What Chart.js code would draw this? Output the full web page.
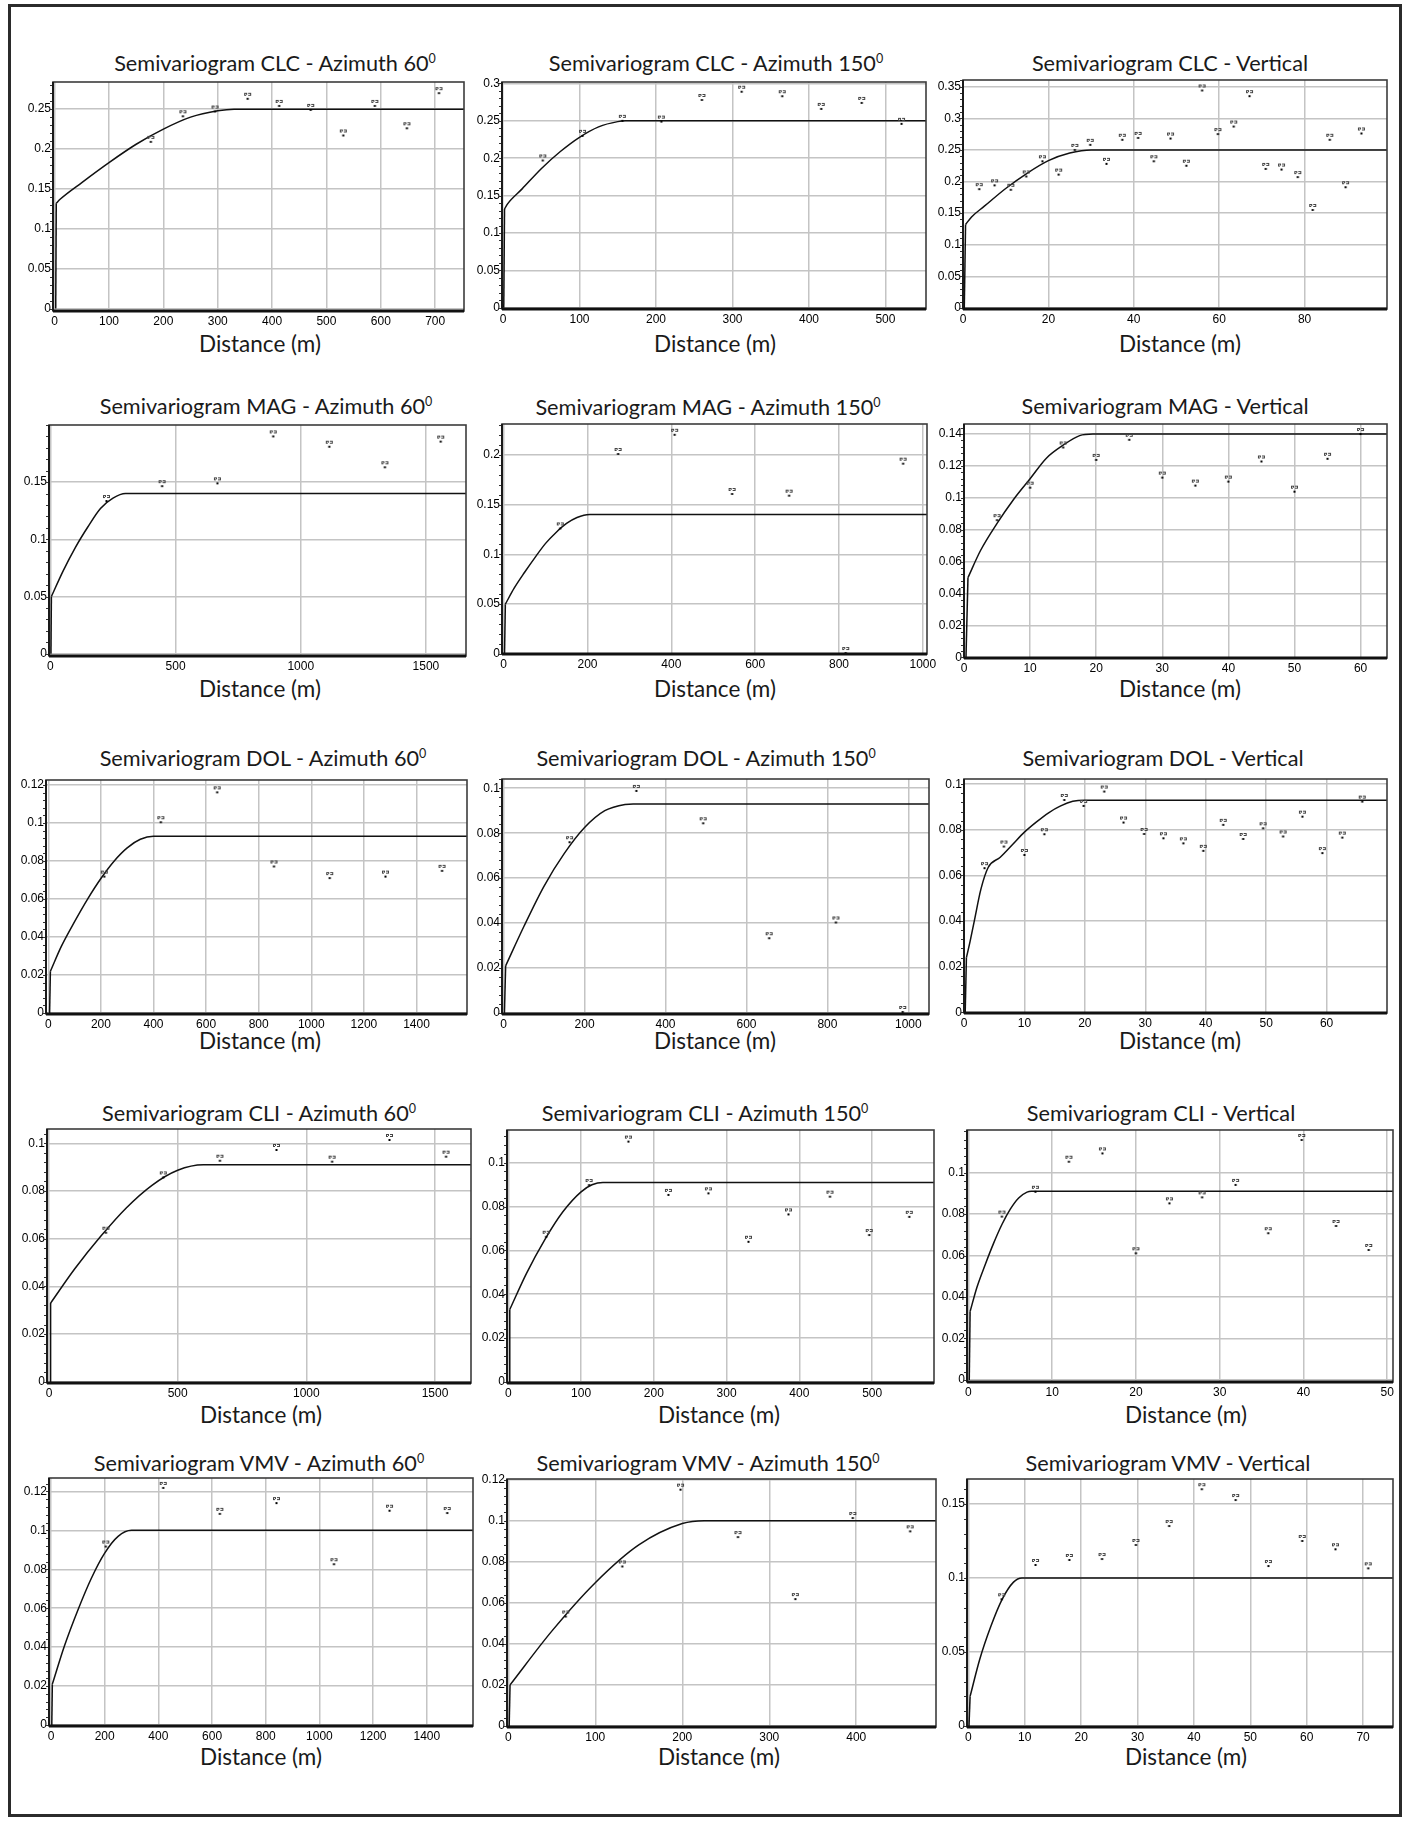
<!DOCTYPE html>
<html>
<head>
<meta charset="utf-8">
<title>Semivariograms</title>
<script src="https://cdn.jsdelivr.net/npm/chart.js@4.4.1/dist/chart.umd.min.js"></script>
<style>
  html, body { margin: 0; padding: 0; background: #fff; }
  #page { position: relative; width: 1408px; height: 1824px; overflow: hidden; background: #fff; }
  #outer { position: absolute; left: 8px; top: 4px; width: 1388px; height: 1807px; border: 3px solid #2b2b2b; }
  .ttl, .xlab { position: absolute; white-space: nowrap; transform: translate(-50%, -50%);
    font-family: Lato, "Open Sans", sans-serif; color: #1a1a1a; line-height: 1.2; }
  .ttl { font-size: 21.7px; }
  .xlab { font-size: 22.5px; }
  .ttl sup { font-size: 12.5px; line-height: 0; vertical-align: 0.65em; }
  canvas { position: absolute; }
</style>
</head>
<body>
<div id="page"><div id="outer"></div></div>
<script>
// ---- data: lags (m), semivariance, fitted model ----
// first two fit points are the nugget jump, the rest is the smooth model
// CLC
const clcAz60Lag = [177, 236, 295, 355, 413, 471, 531, 589, 648, 707];
const clcAz60Gamma = [0.209, 0.241, 0.247, 0.263, 0.254, 0.249, 0.217, 0.254, 0.226, 0.270];
const clcAz60FitLag = [2, 3, 10, 50, 100, 150, 200, 250, 300, 330, 753];
const clcAz60Fit = [0, 0.132, 0.137, 0.158, 0.183, 0.206, 0.225, 0.240, 0.248, 0.25, 0.25];
const clcAz60XTicks = [0, 100, 200, 300, 400, 500, 600, 700];
const clcAz60YTicks = [0, 0.05, 0.1, 0.15, 0.2, 0.25];

const clcAz150Lag = [52, 104, 156, 207, 260, 312, 365, 416, 469, 521];
const clcAz150Gamma = [0.197, 0.230, 0.250, 0.249, 0.278, 0.289, 0.283, 0.266, 0.274, 0.246];
const clcAz150FitLag = [1, 2, 6, 25, 50, 75, 100, 125, 150, 160, 553];
const clcAz150Fit = [0, 0.132, 0.139, 0.159, 0.186, 0.209, 0.228, 0.242, 0.249, 0.25, 0.25];
const clcAz150XTicks = [0, 100, 200, 300, 400, 500];
const clcAz150YTicks = [0, 0.05, 0.1, 0.15, 0.2, 0.25, 0.3];

const clcVertLag = [3.8, 7.4, 11.2, 14.8, 18.6, 22.4, 26.2, 29.8, 33.6, 37.3, 41.0, 44.7, 48.6,
  52.3, 56.0, 59.7, 63.4, 67.1, 70.9, 74.6, 78.4, 81.9, 85.9, 89.6, 93.3];
const clcVertGamma = [0.188, 0.194, 0.187, 0.208, 0.232, 0.211, 0.250, 0.258, 0.228, 0.266, 0.269, 0.232, 0.268,
  0.225, 0.344, 0.275, 0.287, 0.335, 0.220, 0.219, 0.207, 0.155, 0.266, 0.191, 0.276];
const clcVertFitLag = [0.3, 0.6, 2, 5, 10, 15, 20, 25, 30, 99.3];
const clcVertFit = [0, 0.132, 0.144, 0.161, 0.189, 0.213, 0.233, 0.245, 0.25, 0.25];
const clcVertXTicks = [0, 20, 40, 60, 80];
const clcVertYTicks = [0, 0.05, 0.1, 0.15, 0.2, 0.25, 0.3, 0.35];

// MAG
const magAz60Lag = [224, 446, 667, 890, 1114, 1336, 1559];
const magAz60Gamma = [0.1335, 0.1465, 0.149, 0.190, 0.181, 0.163, 0.1855];
const magAz60FitLag = [2, 4, 50, 100, 150, 200, 250, 300, 1660];
const magAz60Fit = [0, 0.05, 0.072, 0.093, 0.111, 0.127, 0.136, 0.14, 0.14];
const magAz60XTicks = [0, 500, 1000, 1500];
const magAz60YTicks = [0, 0.05, 0.1, 0.15];

const magAz150Lag = [135, 273, 408, 545, 681, 816, 953];
const magAz150Gamma = [0.126, 0.2007, 0.22, 0.1606, 0.1589, 0.001, 0.191];
const magAz150FitLag = [2, 4, 25, 50, 75, 100, 125, 150, 175, 205, 1010];
const magAz150Fit = [0, 0.05, 0.066, 0.082, 0.097, 0.111, 0.122, 0.131, 0.137, 0.14, 0.14];
const magAz150XTicks = [0, 200, 400, 600, 800, 1000];
const magAz150YTicks = [0, 0.05, 0.1, 0.15, 0.2];

const magVertLag = [5, 10, 15, 20, 25, 30, 35, 40, 45, 50, 55, 60];
const magVertGamma = [0.086, 0.1064, 0.1316, 0.1238, 0.1364, 0.1127, 0.1077, 0.1102, 0.1228, 0.1039, 0.1245, 0.140];
const magVertFitLag = [0.3, 0.6, 2.5, 5, 7.5, 10, 12.5, 15, 17.5, 19.5, 64];
const magVertFit = [0, 0.05, 0.067, 0.084, 0.099, 0.112, 0.125, 0.133, 0.139, 0.14, 0.14];
const magVertXTicks = [0, 10, 20, 30, 40, 50, 60];
const magVertYTicks = [0, 0.02, 0.04, 0.06, 0.08, 0.1, 0.12, 0.14];

// DOL
const dolAz60Lag = [213, 428, 642, 858, 1070, 1282, 1497];
const dolAz60Gamma = [0.0718, 0.1004, 0.1161, 0.0771, 0.071, 0.0718, 0.0748];
const dolAz60FitLag = [5, 8, 50, 100, 150, 200, 250, 300, 350, 400, 1592];
const dolAz60Fit = [0, 0.022, 0.0352, 0.0481, 0.0601, 0.0708, 0.0799, 0.0869, 0.0914, 0.093, 0.093];
const dolAz60XTicks = [0, 200, 400, 600, 800, 1000, 1200, 1400];
const dolAz60YTicks = [0, 0.02, 0.04, 0.06, 0.08, 0.1, 0.12];

const dolAz150Lag = [163, 328, 493, 656, 821, 986];
const dolAz150Gamma = [0.076, 0.0988, 0.0844, 0.0333, 0.0403, 0.0005];
const dolAz150FitLag = [2, 5, 50, 100, 150, 200, 250, 300, 320, 1051];
const dolAz150Fit = [0, 0.021, 0.0385, 0.0565, 0.071, 0.0825, 0.09, 0.0928, 0.093, 0.093];
const dolAz150XTicks = [0, 200, 400, 600, 800, 1000];
const dolAz150YTicks = [0, 0.02, 0.04, 0.06, 0.08, 0.1];

const dolVertLag = [3.4, 6.6, 10.0, 13.3, 16.6, 19.8, 23.2, 26.4, 29.8, 33.0, 36.3, 39.6, 42.9, 46.2,
  49.5, 52.8, 56.0, 59.3, 62.6, 65.9];
const dolVertGamma = [0.0632, 0.0727, 0.069, 0.0781, 0.0931, 0.0905, 0.0968, 0.0832, 0.0782, 0.0763, 0.0741, 0.0708,
  0.0822, 0.076, 0.0807, 0.0771, 0.0858, 0.0698, 0.0766, 0.0924];
const dolVertFitLag = [0.2, 0.4, 1, 1.7, 2.8, 4, 6, 8, 10, 12, 14, 16, 18, 20, 70];
const dolVertFit = [0, 0.024, 0.031, 0.04, 0.054, 0.0635, 0.068, 0.0735, 0.079, 0.0835, 0.0875, 0.0905, 0.0925, 0.093, 0.093];
const dolVertXTicks = [0, 10, 20, 30, 40, 50, 60];
const dolVertYTicks = [0, 0.02, 0.04, 0.06, 0.08, 0.1];

// CLI
const cliAz60Lag = [221, 444, 664, 884, 1100, 1323, 1543];
const cliAz60Gamma = [0.0625, 0.0857, 0.0927, 0.0972, 0.0923, 0.1014, 0.0944];
const cliAz60FitLag = [4, 6, 100, 200, 300, 400, 500, 600, 1640];
const cliAz60Fit = [0, 0.033, 0.0474, 0.0609, 0.0729, 0.0824, 0.0887, 0.091, 0.091];
const cliAz60XTicks = [0, 500, 1000, 1500];
const cliAz60YTicks = [0, 0.02, 0.04, 0.06, 0.08, 0.1];

const cliAz150Lag = [52, 111, 165, 220, 275, 330, 385, 442, 496, 551];
const cliAz150Gamma = [0.0662, 0.0898, 0.1096, 0.0853, 0.086, 0.0639, 0.0764, 0.0845, 0.067, 0.0753];
const cliAz150FitLag = [1, 2, 25, 50, 75, 100, 115, 130, 585];
const cliAz150Fit = [0, 0.033, 0.0495, 0.0648, 0.0776, 0.0867, 0.0899, 0.091, 0.091];
const cliAz150XTicks = [0, 100, 200, 300, 400, 500];
const cliAz150YTicks = [0, 0.02, 0.04, 0.06, 0.08, 0.1];

const cliVertLag = [4.0, 8.0, 12.0, 16.0, 20.0, 24.0, 27.9, 31.9, 35.8, 39.8, 43.9, 47.8];
const cliVertGamma = [0.0788, 0.0908, 0.1053, 0.1093, 0.0611, 0.0852, 0.0881, 0.0941, 0.0708, 0.1158, 0.0743, 0.0627];
const cliVertFitLag = [0.1, 0.2, 1, 2, 3, 4, 5, 6, 7, 7.5, 50.7];
const cliVertFit = [0, 0.033, 0.0445, 0.0556, 0.0659, 0.075, 0.0824, 0.0878, 0.0906, 0.091, 0.091];
const cliVertXTicks = [0, 10, 20, 30, 40, 50];
const cliVertYTicks = [0, 0.02, 0.04, 0.06, 0.08, 0.1];

// VMV
const vmvAz60Lag = [204, 418, 629, 840, 1054, 1261, 1476];
const vmvAz60Gamma = [0.0917, 0.1218, 0.1085, 0.114, 0.0826, 0.1101, 0.1089];
const vmvAz60FitLag = [3, 5, 50, 100, 150, 200, 250, 300, 1572];
const vmvAz60Fit = [0, 0.021, 0.0406, 0.059, 0.0753, 0.0883, 0.0969, 0.1, 0.1];
const vmvAz60XTicks = [0, 200, 400, 600, 800, 1000, 1200, 1400];
const vmvAz60YTicks = [0, 0.02, 0.04, 0.06, 0.08, 0.1, 0.12];

const vmvAz150Lag = [66, 131, 198, 264, 330, 396, 462];
const vmvAz150Gamma = [0.0533, 0.0777, 0.1151, 0.092, 0.0618, 0.1013, 0.0948];
const vmvAz150FitLag = [1, 2, 50, 100, 150, 200, 225, 492];
const vmvAz150Fit = [0, 0.02, 0.0462, 0.0698, 0.0882, 0.0986, 0.1, 0.1];
const vmvAz150XTicks = [0, 100, 200, 300, 400];
const vmvAz150YTicks = [0, 0.02, 0.04, 0.06, 0.08, 0.1, 0.12];

const vmvVertLag = [5.9, 11.9, 17.9, 23.7, 29.7, 35.6, 41.4, 47.4, 53.2, 59.2, 65.1, 70.9];
const vmvVertGamma = [0.0856, 0.1088, 0.1122, 0.1128, 0.1223, 0.1351, 0.16, 0.1527, 0.1081, 0.125, 0.1194, 0.1065];
const vmvVertFitLag = [0.1, 0.3, 2, 4, 6, 8, 9.5, 75.3];
const vmvVertFit = [0, 0.02, 0.0449, 0.0675, 0.0857, 0.0972, 0.1, 0.1];
const vmvVertXTicks = [0, 10, 20, 30, 40, 50, 60, 70];
const vmvVertYTicks = [0, 0.05, 0.1, 0.15];

const variables = ["CLC", "MAG", "DOL", "CLI", "VMV"];
const directions = ["Azimuth 60<sup>0</sup>", "Azimuth 150<sup>0</sup>", "Vertical"];

// ---- layout: plot frame [left, top, right, bottom], axis ranges, label centres ----
const panels = [
  { v: 0, d: 0, lag: clcAz60Lag, g: clcAz60Gamma, fl: clcAz60FitLag, f: clcAz60Fit, xt: clcAz60XTicks, yt: clcAz60YTicks,
    box: [53, 82, 464, 311], x: [-3, 753], y: [-0.003, 0.284], title: [275, 63], xlab: [260, 343] },
  { v: 0, d: 1, lag: clcAz150Lag, g: clcAz150Gamma, fl: clcAz150FitLag, f: clcAz150Fit, xt: clcAz150XTicks, yt: clcAz150YTicks,
    box: [502, 82, 926, 309], x: [-1.3, 553], y: [-0.0017, 0.302], title: [716, 63], xlab: [715, 343] },
  { v: 0, d: 2, lag: clcVertLag, g: clcVertGamma, fl: clcVertFitLag, f: clcVertFit, xt: clcVertXTicks, yt: clcVertYTicks,
    box: [963, 80, 1387, 309], x: [0, 99.3], y: [-0.0016, 0.3606], title: [1170, 63], xlab: [1180, 343] },

  { v: 1, d: 0, lag: magAz60Lag, g: magAz60Gamma, fl: magAz60FitLag, f: magAz60Fit, xt: magAz60XTicks, yt: magAz60YTicks,
    box: [49, 425, 466, 656], x: [-5.6, 1660], y: [-0.002, 0.2], title: [266, 406], xlab: [260, 688] },
  { v: 1, d: 1, lag: magAz150Lag, g: magAz150Gamma, fl: magAz150FitLag, f: magAz150Fit, xt: magAz150XTicks, yt: magAz150YTicks,
    box: [502, 424, 927, 654], x: [-4, 1010], y: [0, 0.2308], title: [708, 407], xlab: [715, 688] },
  { v: 1, d: 2, lag: magVertLag, g: magVertGamma, fl: magVertFitLag, f: magVertFit, xt: magVertXTicks, yt: magVertYTicks,
    box: [964, 424, 1387, 658], x: [0, 64], y: [-0.0004, 0.1463], title: [1165, 406], xlab: [1180, 688] },

  { v: 2, d: 0, lag: dolAz60Lag, g: dolAz60Gamma, fl: dolAz60FitLag, f: dolAz60Fit, xt: dolAz60XTicks, yt: dolAz60YTicks,
    box: [46, 780, 467, 1014], x: [-8.7, 1592], y: [-0.0005, 0.1226], title: [263, 758], xlab: [260, 1040] },
  { v: 2, d: 1, lag: dolAz150Lag, g: dolAz150Gamma, fl: dolAz150FitLag, f: dolAz150Fit, xt: dolAz150XTicks, yt: dolAz150YTicks,
    box: [502, 779, 929, 1014], x: [-4, 1051], y: [-0.0004, 0.1041], title: [706, 758], xlab: [715, 1040] },
  { v: 2, d: 2, lag: dolVertLag, g: dolVertGamma, fl: dolVertFitLag, f: dolVertFit, xt: dolVertXTicks, yt: dolVertYTicks,
    box: [964, 779, 1387, 1013], x: [0, 70], y: [-0.0003, 0.1023], title: [1163, 758], xlab: [1180, 1040] },

  { v: 3, d: 0, lag: cliAz60Lag, g: cliAz60Gamma, fl: cliAz60FitLag, f: cliAz60Fit, xt: cliAz60XTicks, yt: cliAz60YTicks,
    box: [47, 1129, 471, 1383], x: [-8, 1640], y: [-0.0005, 0.106], title: [259, 1113], xlab: [261, 1414] },
  { v: 3, d: 1, lag: cliAz150Lag, g: cliAz150Gamma, fl: cliAz150FitLag, f: cliAz150Fit, xt: cliAz150XTicks, yt: cliAz150YTicks,
    box: [507, 1130, 934, 1383], x: [-1.8, 585], y: [-0.0005, 0.1149], title: [705, 1113], xlab: [719, 1414] },
  { v: 3, d: 2, lag: cliVertLag, g: cliVertGamma, fl: cliVertFitLag, f: cliVertFit, xt: cliVertXTicks, yt: cliVertYTicks,
    box: [967, 1130, 1393, 1382], x: [-0.17, 50.7], y: [-0.001, 0.1206], title: [1161, 1113], xlab: [1186, 1414] },

  { v: 4, d: 0, lag: vmvAz60Lag, g: vmvAz60Gamma, fl: vmvAz60FitLag, f: vmvAz60Fit, xt: vmvAz60XTicks, yt: vmvAz60YTicks,
    box: [49, 1478, 473, 1726], x: [-7.4, 1572], y: [-0.0005, 0.1269], title: [259, 1463], xlab: [261, 1756] },
  { v: 4, d: 1, lag: vmvAz150Lag, g: vmvAz150Gamma, fl: vmvAz150FitLag, f: vmvAz150Fit, xt: vmvAz150XTicks, yt: vmvAz150YTicks,
    box: [507, 1479, 936, 1727], x: [-1.5, 491.7], y: [-0.0005, 0.1203], title: [708, 1463], xlab: [719, 1756] },
  { v: 4, d: 2, lag: vmvVertLag, g: vmvVertGamma, fl: vmvVertFitLag, f: vmvVertFit, xt: vmvVertXTicks, yt: vmvVertYTicks,
    box: [967, 1479, 1393, 1727], x: [-0.25, 75.3], y: [-0.0007, 0.1669], title: [1168, 1463], xlab: [1186, 1756] }
];

Chart.defaults.font.family = "'Liberation Sans', Arial, sans-serif";
Chart.defaults.font.size = 12;
Chart.defaults.color = "#000";

// small mark: pair-count smudge above, black dot at the centre (the data point)
function makeMark() {
  const c = document.createElement("canvas");
  c.width = 9; c.height = 14;
  const g = c.getContext("2d");
  g.fillStyle = "#444";
  g.fillRect(1, 1, 3, 1); g.fillRect(5, 1, 3, 1);
  g.fillRect(1, 2, 1, 2); g.fillRect(3, 2, 1, 1); g.fillRect(7, 2, 1, 2); g.fillRect(5, 3, 2, 1);
  g.fillRect(2, 3, 1, 1);
  g.fillStyle = "#000";
  g.fillRect(3.5, 6, 2, 2);
  return c;
}
const mark = makeMark();

// frame round the plot area + minor ticks on the y axis
const frameBox = {
  id: "frameBox",
  afterDatasetsDraw(chart) {
    const { ctx, chartArea: a, scales } = chart;
    const yt = chart.options.scales.y.myTicks;
    ctx.save();
    ctx.strokeStyle = "#333"; ctx.lineWidth = 1;
    const step = (yt[1] - yt[0]) / 5;
    for (let v = 0; v <= scales.y.max + 1e-9; v += step) {
      const py = Math.round(scales.y.getPixelForValue(v)) + 0.5;
      if (py < a.top) break;
      ctx.beginPath(); ctx.moveTo(a.left - 3, py); ctx.lineTo(a.left, py); ctx.stroke();
    }
    ctx.strokeStyle = "#3c3c3c"; ctx.lineWidth = 1.6;
    ctx.strokeRect(a.left, a.top, a.right - a.left, a.bottom - a.top);
    ctx.strokeStyle = "#1a1a1a"; ctx.lineWidth = 2;
    ctx.beginPath(); ctx.moveTo(a.left, a.top); ctx.lineTo(a.left, a.bottom); ctx.stroke();
    ctx.strokeStyle = "#111"; ctx.lineWidth = 3;
    ctx.beginPath(); ctx.moveTo(a.left, a.bottom); ctx.lineTo(a.right, a.bottom); ctx.stroke();
    ctx.restore();
  }
};

const page = document.getElementById("page");
const L = 60, T = 10, R = 24, B = 26;

panels.forEach((p) => {
  const [l, t, r, b] = p.box;

  const ttl = document.createElement("div");
  ttl.className = "ttl";
  ttl.innerHTML = "Semivariogram " + variables[p.v] + " - " + directions[p.d];
  ttl.style.left = p.title[0] + "px"; ttl.style.top = p.title[1] + "px";
  page.appendChild(ttl);

  const xl = document.createElement("div");
  xl.className = "xlab";
  xl.textContent = "Distance (m)";
  xl.style.left = p.xlab[0] + "px"; xl.style.top = p.xlab[1] + "px";
  page.appendChild(xl);

  const cv = document.createElement("canvas");
  cv.width = L + (r - l) + R;
  cv.height = T + (b - t) + B;
  cv.style.left = (l - L) + "px";
  cv.style.top = (t - T) + "px";
  page.appendChild(cv);

  const fitPts = p.fl.map((x, i) => ({ x, y: p.f[i] }));
  const grid = { color: "#c4c4c4", lineWidth: 1.5, drawTicks: false };
  new Chart(cv, {
    type: "scatter",
    data: {
      datasets: [
        { data: p.lag.map((x, i) => ({ x, y: p.g[i] })), pointStyle: mark, pointRadius: 4, order: 0 },
        // nugget jump
        { data: fitPts.slice(0, 2), showLine: true, pointRadius: 0, borderColor: "#111", borderWidth: 1.5,
          tension: 0, fill: false, order: 1 },
        // model curve
        { data: fitPts.slice(1), showLine: true, pointRadius: 0, borderColor: "#111", borderWidth: 1.5,
          cubicInterpolationMode: "monotone", fill: false, order: 1 }
      ]
    },
    options: {
      responsive: false, animation: false, events: [],
      layout: { padding: { top: T, right: R, left: 0, bottom: 0 } },
      plugins: { legend: { display: false }, tooltip: { enabled: false } },
      scales: {
        x: {
          type: "linear", min: p.x[0], max: p.x[1], grid, border: { display: false },
          afterBuildTicks: (s) => { s.ticks = p.xt.map((v) => ({ value: v })); },
          afterFit: (s) => { s.height = B; s.paddingLeft = 0; s.paddingRight = 0; },
          ticks: { padding: 3, maxRotation: 0, autoSkip: false, callback: (v) => String(v) }
        },
        y: {
          type: "linear", min: p.y[0], max: p.y[1], grid, border: { display: false }, myTicks: p.yt,
          afterBuildTicks: (s) => { s.ticks = p.yt.map((v) => ({ value: v })); },
          afterFit: (s) => { s.width = L; s.paddingTop = 0; s.paddingBottom = 0; },
          ticks: { padding: 2, autoSkip: false, callback: (v) => String(v) }
        }
      }
    },
    plugins: [frameBox]
  });
});
</script>
</body>
</html>
